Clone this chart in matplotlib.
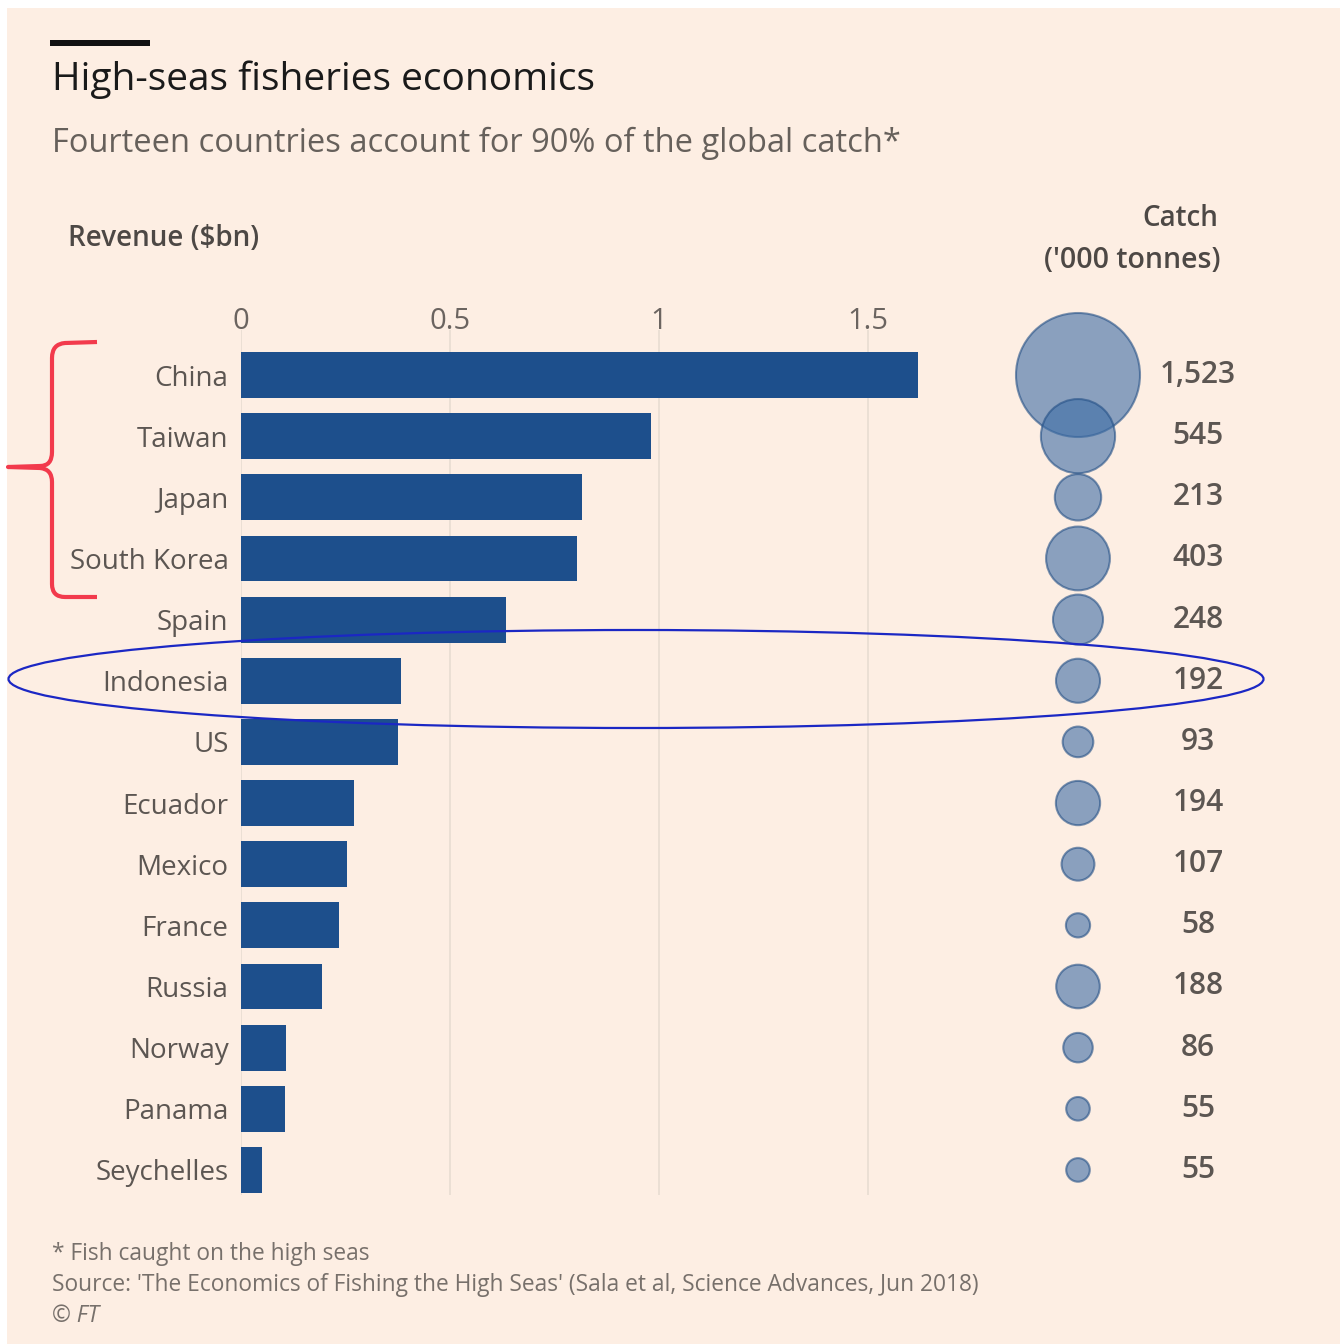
import numpy as np
import matplotlib.pyplot as plt
from matplotlib.patches import Rectangle, Ellipse, PathPatch
from matplotlib.path import Path

plt.rcParams['font.family'] = ['Open Sans', 'DejaVu Sans']

# data
countries = ['China', 'Taiwan', 'Japan', 'South Korea', 'Spain', 'Indonesia', 'US',
             'Ecuador', 'Mexico', 'France', 'Russia', 'Norway', 'Panama', 'Seychelles']
revenue = [1.62, 0.98, 0.815, 0.805, 0.635, 0.383, 0.376,
           0.270, 0.254, 0.234, 0.194, 0.108, 0.105, 0.050]
catch = [1523, 545, 213, 403, 248, 192, 93, 194, 107, 58, 188, 86, 55, 55]
catch_labels = ['1,523', '545', '213', '403', '248', '192', '93',
                '194', '107', '58', '188', '86', '55', '55']
xticks = [0, 0.5, 1, 1.5]
xtick_labels = ['0', '0.5', '1', '1.5']

W, H = 1340, 1344
BG = '#fdeee3'
BAR = '#1d4f8c'
TXT = '#5c5652'


def fx(x):
    return x / W


def fy(y):
    return 1 - y / H


fig = plt.figure(figsize=(W / 100, H / 100), dpi=100)
fig.patch.set_facecolor('white')
fig.patches.append(Rectangle((fx(7), 0), 1 - fx(7), fy(8), transform=fig.transFigure,
                             facecolor=BG, edgecolor='none', zorder=-10))

# header
fig.patches.append(Rectangle((fx(50), fy(46)), fx(100), 6 / H, transform=fig.transFigure,
                             facecolor='#111111', edgecolor='none'))
fig.text(fx(52), fy(80), 'High-seas fisheries economics', fontsize=28, color='#1a1a1a', va='center')
fig.text(fx(52), fy(143), 'Fourteen countries account for 90% of the global catch*',
         fontsize=23.5, color='#66605b', va='center')
fig.text(fx(68), fy(238), 'Revenue ($bn)', fontsize=20, color='#4d4845', va='center',
         fontweight='semibold')
fig.text(fx(1218), fy(218), 'Catch', fontsize=20, color='#4d4845', va='center', ha='right',
         fontweight='semibold')
fig.text(fx(1220), fy(260), "('000 tonnes)", fontsize=20.5, color='#4d4845', va='center', ha='right',
         fontweight='semibold')

# bar chart
y = np.arange(len(countries))
ax = fig.add_axes([fx(241), fy(1195), fx(1240 - 241), (1195 - 330) / H])
ax.set_facecolor('none')
ax.barh(y, revenue, height=0.75, color=BAR, zorder=3)
ax.set_xlim(0, (1240 - 241) / 418)
ax.set_ylim(len(countries) - 1 + 0.41, -0.736)
ax.set_xticks(xticks)
ax.set_xticklabels(xtick_labels)
ax.xaxis.tick_top()
ax.tick_params(axis='x', length=0, pad=-4, labelsize=21, labelcolor='#6b6460')
ax.set_yticks(y)
ax.set_yticklabels(countries)
ax.tick_params(axis='y', length=0, pad=9, labelsize=20, labelcolor=TXT)
ax.grid(axis='x', color='#e8dcd2', linewidth=1.2, zorder=0)
for s in ax.spines.values():
    s.set_visible(False)

# bubbles
ax2 = fig.add_axes([fx(1000), fy(1195), fx(156), (1195 - 330) / H])
ax2.set_facecolor('none')
ax2.set_xlim(-1, 1)
ax2.set_ylim(ax.get_ylim())
sizes = np.array(catch) / max(catch) * (2 * 62 * 0.72) ** 2
ax2.scatter(np.zeros(len(catch)), y, s=sizes, facecolor='#3d6da6', alpha=0.6,
            edgecolor='#234f85', linewidth=1.5, clip_on=False, zorder=3)
for yi, lab in zip(y, catch_labels):
    ax2.text((1198 - 1000) / 156, yi, lab, transform=ax2.get_yaxis_transform(),
             ha='center', va='center', fontsize=21.5, color=TXT, fontweight='semibold')
ax2.axis('off')

# footnotes
fig.text(fx(52), fy(1254), '* Fish caught on the high seas', fontsize=16.4, color='#77706b', va='center')
fig.text(fx(52), fy(1285),
         "Source: 'The Economics of Fishing the High Seas' (Sala et al, Science Advances, Jun 2018)",
         fontsize=16.4, color='#77706b', va='center')
fig.text(fx(52), fy(1316), '\u00a9 FT', fontsize=16.4, color='#77706b', va='center', style='italic')

# red brace annotation
pts = [(97, 342), (65, 343), (52, 344), (52, 358), (52, 452), (52, 466), (40, 466), (8, 467),
       (40, 468), (52, 469), (52, 482), (52, 584), (52, 597), (65, 597), (97, 597)]
codes = [Path.MOVETO, Path.LINETO, Path.CURVE3, Path.CURVE3, Path.LINETO, Path.CURVE3, Path.CURVE3,
         Path.LINETO, Path.LINETO, Path.CURVE3, Path.CURVE3, Path.LINETO, Path.CURVE3, Path.CURVE3,
         Path.LINETO]
brace = Path([(fx(a), fy(b)) for a, b in pts], codes)
fig.patches.append(PathPatch(brace, transform=fig.transFigure, facecolor='none',
                             edgecolor='#f23a4c', linewidth=3, capstyle='butt', joinstyle='round'))

# blue ellipse annotation
fig.patches.append(Ellipse((fx(636), fy(679)), fx(1255), 98 / H, transform=fig.transFigure,
                           facecolor='none', edgecolor='#1b27c4', linewidth=1.6, zorder=10))

fig.savefig('out.png', dpi=100, facecolor=fig.get_facecolor())
